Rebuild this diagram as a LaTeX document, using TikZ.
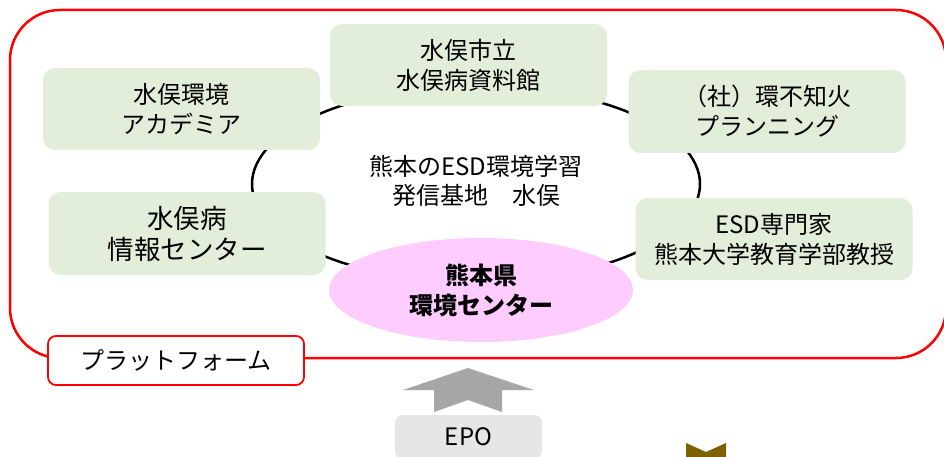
\documentclass[tikz,border=0pt]{standalone}
\usepackage{fontspec}
\setmainfont{Noto Sans CJK JP}
\usetikzlibrary{shapes.geometric, positioning}
\definecolor{boxgreen}{RGB}{226,238,218}
\definecolor{centerpink}{RGB}{255,204,255}
\definecolor{arrowgray}{RGB}{166,166,166}
\definecolor{epogray}{RGB}{230,230,230}
\definecolor{brown}{RGB}{127,96,0}
\tikzset{
        orgbox/.style={fill=boxgreen, rounded corners=12pt, minimum width=277pt, minimum height=82pt, inner sep=0pt, align=center, font=\fontsize{24}{30}\selectfont}, % the green partner boxes
        hubnode/.style={ellipse, fill=centerpink, minimum width=304pt, minimum height=104pt, inner sep=0pt, align=center, font=\bfseries\fontsize{24}{30}\selectfont}, % the pink centre
        platform/.style={draw=red, line width=2.5pt, rounded corners=50pt}, % the red frame
        tagbox/.style={draw=red, line width=1.8pt, fill=white, rounded corners=8pt, minimum width=256pt, minimum height=49pt, inner sep=0pt, font=\fontsize{24}{30}\selectfont}, % label on the frame
        }

\begin{document}
\begin{tikzpicture}[x=1pt, y=-1pt]
        \clip (0,0) rectangle (944,457);
        % ring behind the partners
        \coordinate (ring) at (476,184);
        \draw[line width=2.5pt] (ring) ellipse (224pt and 98pt);
        \draw[platform] (10,10) rectangle (946,358);

        \node[orgbox] (Shiryokan) at (468.5,65) {水俣市立\\水俣病資料館};
        \node[orgbox] (Academia) at (181.5,109) {水俣環境\\アカデミア};
        \node[orgbox, minimum height=83pt] (Planning) at (767,111.5) {（社）環不知火\\プランニング};
        \node[orgbox, minimum height=83pt, font=\fontsize{26.5}{31}\selectfont] (Joho) at (187,233.5) {水俣病\\情報センター};
        \node[orgbox] (Senmonka) at (774,239) {ESD専門家\\熊本大学教育学部教授};

        \node[align=center, font=\fontsize{24}{29}\selectfont] (Base) at (476,181) {熊本のESD環境学習\\発信基地　水俣};
        \node[hubnode] (Center) at (481,290) {熊本県\\環境センター};

        \node[tagbox] (Tag) at (176,360.5) {プラットフォーム};

        % support from EPO
        \fill[arrowgray] (468,368) -- (534,390) -- (502,390) -- (502,412) -- (468,400)
                -- (434,412) -- (434,390) -- (403,390) -- cycle;
        \node[fill=epogray, rounded corners=8pt, minimum width=147pt, minimum height=44pt, inner sep=0pt,
                font=\fontsize{24}{30}\selectfont] (EPO) at (468.5,437) {EPO};
        \fill[brown] (686,443) -- (706,452) -- (726,443) -- (726,460) -- (686,460) -- cycle;
\end{tikzpicture}
\end{document}
